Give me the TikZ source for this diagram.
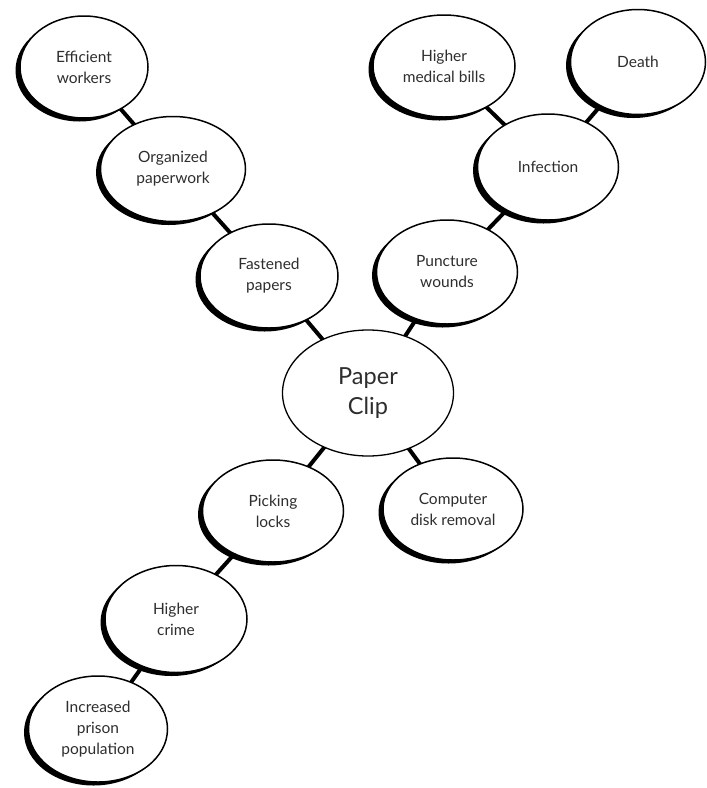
\documentclass[tikz,border=0pt]{standalone}
\usepackage{fontspec}
\setmainfont{Lato}
\usetikzlibrary{shapes.geometric,shadows,backgrounds}
\definecolor{txt}{HTML}{2e2e2e}
\begin{document}
\begin{tikzpicture}[x=1pt,y=-1pt,
  ovalbase/.style={ellipse, draw=black, line width=1.5pt, fill=white,
    inner sep=0pt, align=center, text=txt},
  bub/.style={ovalbase, minimum width=140pt, minimum height=104pt,
    font=\fontsize{15.5}{21}\selectfont,
    drop shadow={shadow xshift=-4.5pt, shadow yshift=-3.5pt, fill=black, opacity=1}},
  bigbub/.style={ovalbase, line width=1.3pt, minimum width=171pt, minimum height=126pt,
    font=\fontsize{23.5}{30}\selectfont},
  link/.style={line width=4pt, draw=black}]
\useasboundingbox (0,0) rectangle (707,788);

\node[bub, minimum width=128pt, minimum height=102pt] (ew) at (84,67) {Efficient\\workers};
\node[bub, minimum width=145pt, minimum height=105pt] (op) at (173,169) {Organized\\paperwork};
\node[bub, minimum width=138pt, minimum height=104pt] (fp) at (269,276) {Fastened\\papers};
\node[bub, minimum width=141pt, minimum height=104pt] (pw) at (447,272) {Puncture\\wounds};
\node[bub, minimum width=141pt, minimum height=106pt] (inf) at (548,167) {Infection};
\node[bub, minimum width=142pt, minimum height=102pt] (hmb) at (444,66) {Higher\\medical bills};
\node[bub, minimum width=135pt, minimum height=105pt] (death) at (638,62) {Death};
\node[bigbub] (pc) at (368,393) {Paper\\Clip};
\node[bub, minimum width=141pt, minimum height=102pt] (pl) at (273,511) {Picking\\locks};
\node[bub, minimum width=140pt, minimum height=102pt] (cdr) at (453,509) {Computer\\disk removal};
\node[bub, minimum width=142pt, minimum height=107pt] (hc) at (176,619) {Higher\\crime};
\node[bub, minimum width=139pt, minimum height=106pt] (ipp) at (98,729) {Increased\\prison\\population};

\begin{scope}[on background layer]
  \fill[white] (0,0) rectangle (707,788);
  \draw[link] (ew.center) -- (op.center);
  \draw[link] (op.center) -- (fp.center);
  \draw[link] (fp.center) -- (pc.center);
  \draw[link] (pw.center) -- (pc.center);
  \draw[link] (inf.center) -- (pw.center);
  \draw[link] (hmb.center) -- (inf.center);
  \draw[link] (death.center) -- (inf.center);
  \draw[link] (pc.center) -- (pl.center);
  \draw[link] (pc.center) -- (cdr.center);
  \draw[link] (pl.center) -- (hc.center);
  \draw[link] (hc.center) -- (ipp.center);
\end{scope}
\end{tikzpicture}
\end{document}
